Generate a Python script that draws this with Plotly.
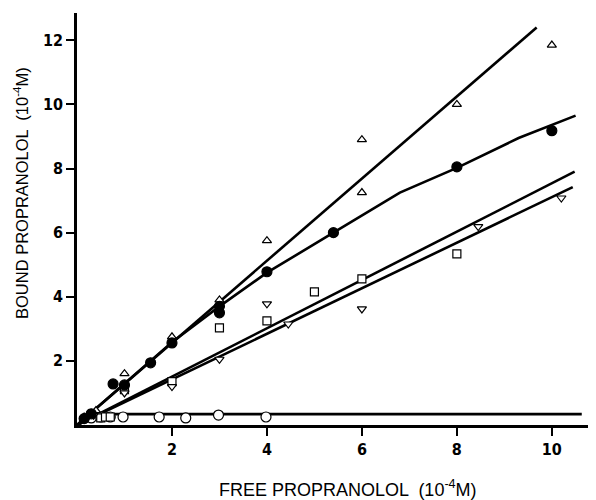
import plotly.graph_objects as go

# Open triangles (up)
tri_x = [0.15, 0.25, 0.4, 1.0, 2.0, 3.0, 4.0, 6.0, 6.0, 8.0, 10.0]
tri_y = [0.25, 0.35, 0.45, 1.6, 2.75, 3.9, 5.75, 8.9, 7.25, 10.0, 11.85]
# Filled circles
fc_x = [0.15, 0.3, 0.76, 1.0, 1.55, 2.0, 3.0, 3.0, 4.0, 5.4, 8.0, 10.0]
fc_y = [0.2, 0.35, 1.28, 1.25, 1.94, 2.56, 3.5, 3.7, 4.78, 6.0, 8.05, 9.18]
# Open squares
sq_x = [0.5, 0.6, 0.7, 1.0, 2.0, 3.0, 4.0, 5.0, 6.0, 8.0]
sq_y = [0.22, 0.25, 0.25, 1.1, 1.35, 3.03, 3.25, 4.15, 4.56, 5.34]
# Open triangles (down)
dt_x = [0.2, 0.35, 1.0, 2.0, 3.0, 4.0, 4.45, 6.0, 8.45, 10.2]
dt_y = [0.2, 0.3, 1.0, 1.2, 2.05, 3.78, 3.15, 3.62, 6.19, 7.08]
# Open circles
oc_x = [0.3, 0.5, 0.7, 0.97, 1.73, 2.29, 2.98, 3.98]
oc_y = [0.22, 0.25, 0.25, 0.25, 0.25, 0.22, 0.31, 0.25]

# Fitted curves
tri_line_x = [0, 9.68]
tri_line_y = [0, 12.4]
fc_line_x = [0, 1, 2, 3, 4, 5.4, 6.8, 8, 9.3, 10.5]
fc_line_y = [0, 1.3, 2.58, 3.7, 4.75, 6.0, 7.25, 8.02, 8.95, 9.65]
sq_line_x = [0, 10.48]
sq_line_y = [0, 7.9]
dt_line_x = [0, 10.44]
dt_line_y = [0, 7.42]
oc_line_x = [0, 0.5, 10.63]
oc_line_y = [0, 0.34, 0.34]

x_ticks = [2, 4, 6, 8, 10]
y_ticks = [2, 4, 6, 8, 10, 12]
x_title = "FREE PROPRANOLOL  (10<sup>-4</sup>M)"
y_title = "BOUND PROPRANOLOL  (10<sup>-4</sup>M)"

fig = go.Figure()
line_style = dict(color="black", width=2.6)
for lx, ly in [(tri_line_x, tri_line_y), (fc_line_x, fc_line_y),
               (sq_line_x, sq_line_y), (dt_line_x, dt_line_y),
               (oc_line_x, oc_line_y)]:
    fig.add_trace(go.Scatter(x=lx, y=ly, mode="lines", line=line_style,
                             showlegend=False, hoverinfo="skip"))

def pts(x, y, symbol, size, filled=False):
    return go.Scatter(
        x=x, y=y, mode="markers", showlegend=False,
        marker=dict(symbol=symbol, size=size,
                    color="black" if filled else "white",
                    line=dict(color="black", width=1.2)))

fig.add_trace(pts(oc_x, oc_y, "circle", 10))
fig.add_trace(pts(sq_x, sq_y, "square", 8))
fig.add_trace(pts(dt_x, dt_y, "triangle-down", 8))
fig.add_trace(pts(tri_x, tri_y, "triangle-up", 8))
fig.add_trace(pts(fc_x, fc_y, "circle", 10, filled=True))

tick_font = dict(size=16, family="DejaVu Sans Condensed, Liberation Sans Narrow, Liberation Sans, Arial")
# page body has an 8px default margin, so the figure is sized 588x492
fig.update_layout(
    width=588, height=492,
    margin=dict(l=69, r=0, t=5, b=75),
    paper_bgcolor="white", plot_bgcolor="white",
    font=dict(family="Liberation Sans, Arial, sans-serif", color="black"),
    annotations=[
        dict(text=x_title, xref="paper", yref="paper", x=0.522, y=-0.155,
             showarrow=False, xanchor="center", yanchor="middle",
             font=dict(size=18)),
        dict(text=y_title, xref="paper", yref="paper", x=-0.108, y=0.563,
             showarrow=False, xanchor="center", yanchor="middle",
             textangle=-90, font=dict(size=16.5)),
    ],
)
fig.update_xaxes(
    range=[0, 10.93], showgrid=False, zeroline=False, automargin=False,
    showline=True, linecolor="black", linewidth=2.5,
    ticks="outside", ticklen=8, tickwidth=2, tickcolor="black",
    tickvals=x_ticks, ticktext=[f"<b>{v}</b>" for v in x_ticks],
    tickfont=tick_font,
)
fig.update_yaxes(
    range=[0, 12.85], showgrid=False, zeroline=False, automargin=False,
    showline=True, linecolor="black", linewidth=2.5,
    ticks="outside", ticklen=8, tickwidth=2, tickcolor="black",
    tickvals=y_ticks, ticktext=[f"<b>{v}</b>" for v in y_ticks],
    tickfont=tick_font,
)

fig.write_html("out.html")
